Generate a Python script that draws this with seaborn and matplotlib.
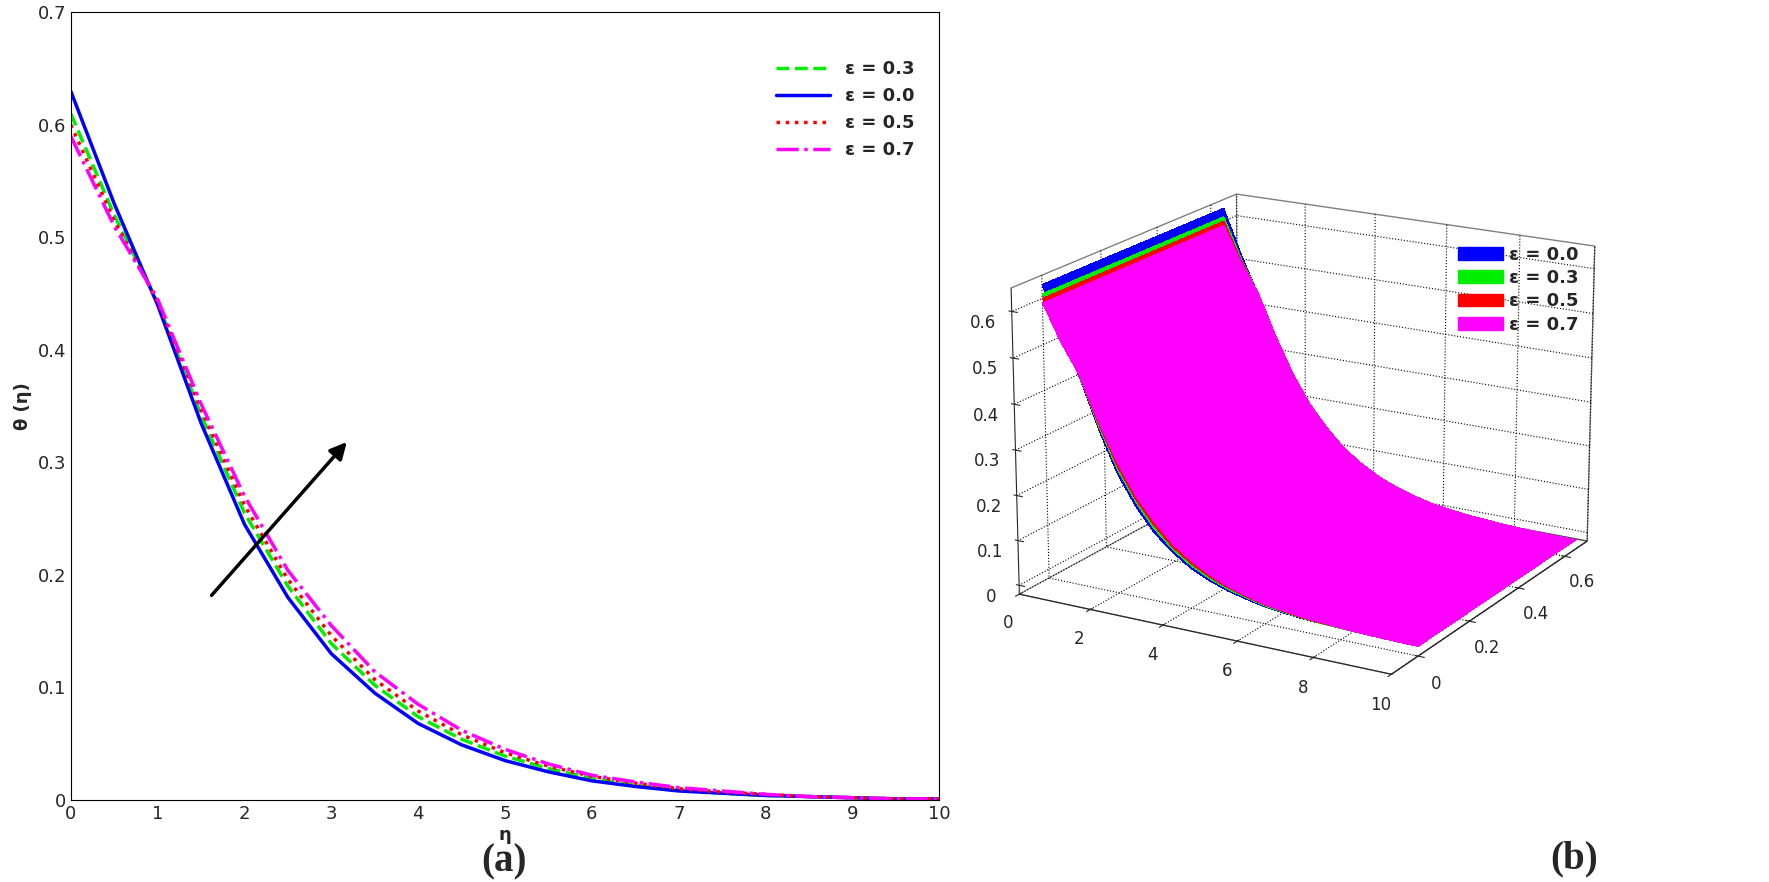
import numpy as np
import seaborn as sns
import matplotlib
matplotlib.use('Agg')
import matplotlib.pyplot as plt
from matplotlib.patches import Patch
from matplotlib.ticker import FormatStrFormatter

# values (eta step 0.5)
eta = [0, 0.5, 1, 1.5, 2, 2.5, 3, 3.5, 4, 4.5, 5, 5.5, 6, 6.5, 7, 7.5, 8, 8.5, 9, 9.5, 10]
theta_e00 = [0.630, 0.530, 0.440, 0.335, 0.245, 0.180, 0.130, 0.095, 0.068, 0.049, 0.035, 0.025, 0.017, 0.012, 0.008, 0.006, 0.004, 0.003, 0.002, 0.001, 0.001]
theta_e03 = [0.610, 0.520, 0.442, 0.342, 0.255, 0.190, 0.139, 0.102, 0.074, 0.054, 0.039, 0.028, 0.019, 0.013, 0.009, 0.006, 0.004, 0.003, 0.002, 0.001, 0.001]
theta_e05 = [0.600, 0.515, 0.443, 0.347, 0.262, 0.196, 0.146, 0.107, 0.079, 0.058, 0.042, 0.030, 0.021, 0.015, 0.010, 0.007, 0.005, 0.003, 0.002, 0.001, 0.001]
theta_e07 = [0.590, 0.510, 0.445, 0.352, 0.270, 0.204, 0.155, 0.114, 0.085, 0.062, 0.045, 0.032, 0.022, 0.016, 0.011, 0.008, 0.005, 0.003, 0.002, 0.001, 0.001]

series = [
    ('ε = 0.3', theta_e03, '#00ee00', '--'),
    ('ε = 0.0', theta_e00, '#0000ff', '-'),
    ('ε = 0.5', theta_e05, '#ff0000', ':'),
    ('ε = 0.7', theta_e07, '#ff00ff', '-.'),
]

sns.set_style('white')
fig = plt.figure(figsize=(17.69, 8.82), dpi=100)

# (b) 3D ribbons (added first so panel (a) sits on top)
ax3 = fig.add_axes([0.55, 0.05, 0.37, 0.93], projection='3d')
ax3.patch.set_visible(False)
yy = np.linspace(0, 0.65, 2)
order3d = [('ε = 0.0', theta_e00, '#0000ff'), ('ε = 0.3', theta_e03, '#00ee00'),
           ('ε = 0.5', theta_e05, '#ff0000'), ('ε = 0.7', theta_e07, '#ff00ff')]
for lab, y, c in order3d:
    X, Y = np.meshgrid(eta, yy)
    Z = np.tile(y, (2, 1))
    ax3.plot_surface(X, Y, Z, color=c, shade=False, linewidth=0, antialiased=False)
ax3.set_xlim(0, 10)
ax3.set_ylim(-0.1, 0.7)
ax3.set_zlim(-0.02, 0.65)
ax3.set_xticks([0, 2, 4, 6, 8, 10])
ax3.set_yticks([0, 0.2, 0.4, 0.6])
ax3.set_zticks(np.arange(0, 0.61, 0.1))
ax3.yaxis.set_major_formatter(FormatStrFormatter('%g'))
ax3.zaxis.set_major_formatter(FormatStrFormatter('%g'))
ax3.tick_params(labelsize=12)
ax3.view_init(elev=18, azim=-60)
ax3.zaxis._axinfo['juggled'] = (1, 2, 0)
for a in (ax3.xaxis, ax3.yaxis, ax3.zaxis):
    a.pane.set_facecolor('white')
    a.pane.set_edgecolor('black')
    a._axinfo['grid'].update(color='black', linestyle=':', linewidth=0.8)
handles = [Patch(color=c, label=l) for l, _, c in order3d]
fig.legend(handles=handles, loc='upper left', bbox_to_anchor=(0.815, 0.74), frameon=False,
           prop={'size': 13, 'weight': 'bold'}, handlelength=2.5, handletextpad=0.3,
           labelspacing=0.3)
fig.text(0.89, 0.015, '(b)', fontsize=28, fontweight='bold', family='Liberation Serif', ha='center')

# (a) line chart
ax = fig.add_axes([0.040, 0.093, 0.491, 0.893])
for lab, y, c, ls in series:
    sns.lineplot(x=eta, y=y, ax=ax, color=c, linestyle=ls, lw=2.5, label=lab)
ax.set_xlim(0, 10)
ax.set_ylim(0, 0.7)
ax.set_xticks(range(0, 11))
ax.set_yticks(np.arange(0, 0.71, 0.1))
ax.yaxis.set_major_formatter(FormatStrFormatter('%g'))
ax.tick_params(labelsize=13, direction='in')
ax.set_xlabel('η', fontsize=13, fontweight='bold', labelpad=2)
ax.set_ylabel('θ (η)', fontsize=13, fontweight='bold')
for s in ax.spines.values():
    s.set_color('black')
ax.legend(loc='upper right', bbox_to_anchor=(0.99, 0.96), frameon=False,
          prop={'size': 13, 'weight': 'bold'}, handlelength=3)
ax.annotate('', xy=(3.2, 0.32), xytext=(1.6, 0.18),
            arrowprops=dict(arrowstyle='-|>,head_width=0.5,head_length=1', color='black', lw=2.5))
fig.text(0.285, 0.012, '(a)', fontsize=28, fontweight='bold', family='Liberation Serif', ha='center')

fig.savefig('out.png', dpi=100)
